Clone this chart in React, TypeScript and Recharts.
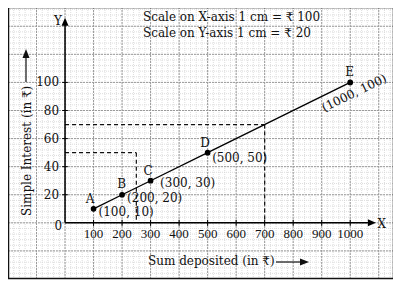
import { LineChart, Line, XAxis, YAxis, ReferenceLine, ReferenceDot } from "recharts";

const pointNames = ["A", "B", "C", "D", "E"];
const sums = [100, 200, 300, 500, 1000];
const interest = [10, 20, 30, 50, 100];
const pointLabels = ["(100, 10)", "(200, 20)", "(300, 30)", "(500, 50)", "(1000, 100)"];
const xTicks = [100, 200, 300, 400, 500, 600, 700, 800, 900, 1000];
const yTicks = [20, 40, 60, 80, 100];
// dashed read-off guides: [sum, interest]
const guides = [
  [250, 50],
  [700, 70],
];

const X_DOMAIN = [-200, 1150];
const Y_DOMAIN = [-40, 153];

const data = sums.map((x, i) => ({ x, y: interest[i], name: pointNames[i], label: pointLabels[i] }));

const range = (from: number, to: number, step: number) => {
  const out: number[] = [];
  for (let v = from; v <= to; v += step) out.push(v);
  return out;
};
const minorX = range(-200, 1150, 20);
const minorY = range(-40, 152, 4);
const majorX = range(-200, 1150, 100);
const majorY = range(-40, 152, 20);

const serif = "'DejaVu Serif', serif";
const tickFont = "'Liberation Serif', serif";

// offsets of letter / coordinate labels from each point, px
const nameOffsets = [
  [-3.5, -6],
  [-0.5, -7],
  [-2.5, -6],
  [-2.5, -6],
  [-0.5, -6.5],
];
const coordOffsets = [
  [5, 7],
  [5, 7],
  [9.5, 6.5],
  [4.5, 9.5],
  [-26, 29.5],
];

const textShape = (text: string, dx: number, dy: number, anchor: string, font: string, size: number, rotate = 0) =>
  (p: any) => (
    <text
      x={p.cx + dx}
      y={p.cy + dy}
      textAnchor={anchor}
      fontFamily={font}
      fontSize={size}
      fill="#111"
      transform={rotate ? `rotate(${rotate}, ${p.cx + dx}, ${p.cy + dy})` : undefined}
    >
      {text}
    </text>
  );

const arrowX = (p: any) => <polygon points={`${p.cx},${p.cy} ${p.cx - 8},${p.cy - 3.5} ${p.cx - 8},${p.cy + 3.5}`} fill="#000" />;
const arrowY = (p: any) => <polygon points={`${p.cx},${p.cy} ${p.cx - 3.5},${p.cy + 8} ${p.cx + 3.5},${p.cy + 8}`} fill="#000" />;

export default function App() {
  return (
    <div style={{ position: "relative", width: 401, height: 286, marginLeft: -8, marginTop: -8, background: "#fff" }}>
      <div style={{ position: "absolute", left: 8, top: 8 }}>
        <LineChart width={385} height={271} data={data} margin={{ top: 0, right: 0, bottom: 0, left: 0 }}>
          <XAxis type="number" dataKey="x" domain={X_DOMAIN} hide allowDataOverflow />
          <YAxis type="number" dataKey="y" domain={Y_DOMAIN} hide allowDataOverflow />

          {minorX.map((v) => (
            <ReferenceLine key={"mx" + v} x={v} stroke="#d4d4d4" strokeWidth={0.8} strokeDasharray="1 1" ifOverflow="visible" />
          ))}
          {minorY.map((v) => (
            <ReferenceLine key={"my" + v} y={v} stroke="#d4d4d4" strokeWidth={0.8} strokeDasharray="1 1" ifOverflow="visible" />
          ))}
          {majorX.map((v) => (
            <ReferenceLine key={"Mx" + v} x={v} stroke="#9a9a9a" strokeWidth={1} strokeDasharray="2 1" ifOverflow="visible" />
          ))}
          {majorY.map((v) => (
            <ReferenceLine key={"My" + v} y={v} stroke="#9a9a9a" strokeWidth={1} strokeDasharray="2 1" ifOverflow="visible" />
          ))}

          {guides.map(([gx, gy]) => (
            <ReferenceLine key={"gh" + gx} segment={[{ x: 0, y: gy }, { x: gx, y: gy }]} stroke="#111" strokeWidth={1.2} strokeDasharray="4 3" />
          ))}
          {guides.map(([gx, gy]) => (
            <ReferenceLine key={"gv" + gx} segment={[{ x: gx, y: gy }, { x: gx, y: 0 }]} stroke="#111" strokeWidth={1.2} strokeDasharray="4 3" />
          ))}

          {/* axes */}
          <ReferenceLine segment={[{ x: 0, y: 0 }, { x: 1065, y: 0 }]} stroke="#000" strokeWidth={1.5} />
          <ReferenceLine segment={[{ x: 0, y: 0 }, { x: 0, y: 141 }]} stroke="#000" strokeWidth={1.5} />
          <ReferenceDot x={1090} y={0} r={0} shape={arrowX} ifOverflow="visible" />
          <ReferenceDot x={0} y={146} r={0} shape={arrowY} ifOverflow="visible" />

          {xTicks.map((v) => (
            <ReferenceLine key={"xt" + v} segment={[{ x: v, y: -2.2 }, { x: v, y: 2.2 }]} stroke="#000" strokeWidth={1} />
          ))}
          {yTicks.map((v) => (
            <ReferenceLine key={"yt" + v} segment={[{ x: -10, y: v }, { x: 10, y: v }]} stroke="#000" strokeWidth={1} />
          ))}
          {xTicks.map((v) => (
            <ReferenceDot key={"xl" + v} x={v} y={0} r={0} shape={textShape(String(v), 0, 15, "middle", tickFont, 13)} />
          ))}
          {yTicks.map((v) => (
            <ReferenceDot key={"yl" + v} x={0} y={v} r={0} shape={textShape(String(v), -6, 4, "end", serif, 12)} />
          ))}
          <ReferenceDot x={0} y={0} r={0} shape={textShape("0", -3, 7, "end", serif, 12)} />
          <ReferenceDot x={0} y={146} r={0} shape={textShape("Y", -7, 7, "middle", serif, 12)} ifOverflow="visible" />
          <ReferenceDot x={1090} y={0} r={0} shape={textShape("X", 6, 5, "middle", serif, 12)} ifOverflow="visible" />

          <Line
            type="linear"
            dataKey="y"
            stroke="#000"
            strokeWidth={1.3}
            dot={{ r: 2.2, fill: "#000", stroke: "#000" }}
            isAnimationActive={false}
          />

          {data.map((d, i) => (
            <ReferenceDot key={"n" + i} x={d.x} y={d.y} r={0} shape={textShape(d.name, nameOffsets[i][0], nameOffsets[i][1], "middle", serif, 12)} />
          ))}
          {data.map((d, i) => (
            <ReferenceDot
              key={"c" + i}
              x={d.x}
              y={d.y}
              r={0}
              ifOverflow="visible"
              shape={textShape(d.label, coordOffsets[i][0], coordOffsets[i][1], "start", serif, 12, i === 4 ? -26 : 0)}
            />
          ))}
        </LineChart>
      </div>
      <svg width={401} height={286} style={{ position: "absolute", left: 0, top: 0, pointerEvents: "none" }}>
        <rect x={8.5} y={7.5} width={385} height={271} fill="none" stroke="#111" strokeWidth={1.5} />
        <text x={143} y={20.5} fontFamily={serif} fontSize={12} fill="#111">Scale on X-axis 1 cm = ₹ 100</text>
        <text x={143} y={37} fontFamily={serif} fontSize={12} fill="#111">Scale on Y-axis 1 cm = ₹ 20</text>
        <text x={31} y={216} fontFamily={serif} fontSize={12} fill="#111" transform="rotate(-90, 31, 216)">
          Simple Interest (in ₹)
        </text>
        <line x1={26} y1={82} x2={26} y2={56} stroke="#111" strokeWidth={1.2} />
        <polygon points="26,49 22.5,58 29.5,58" fill="#111" />
        <text x={148} y={265} fontFamily={serif} fontSize={12} fill="#111">Sum deposited (in ₹)</text>
        <line x1={276} y1={262} x2={301} y2={262} stroke="#111" strokeWidth={1.2} />
        <polygon points="309,262 300,258.5 300,265.5" fill="#111" />
      </svg>
    </div>
  );
}
